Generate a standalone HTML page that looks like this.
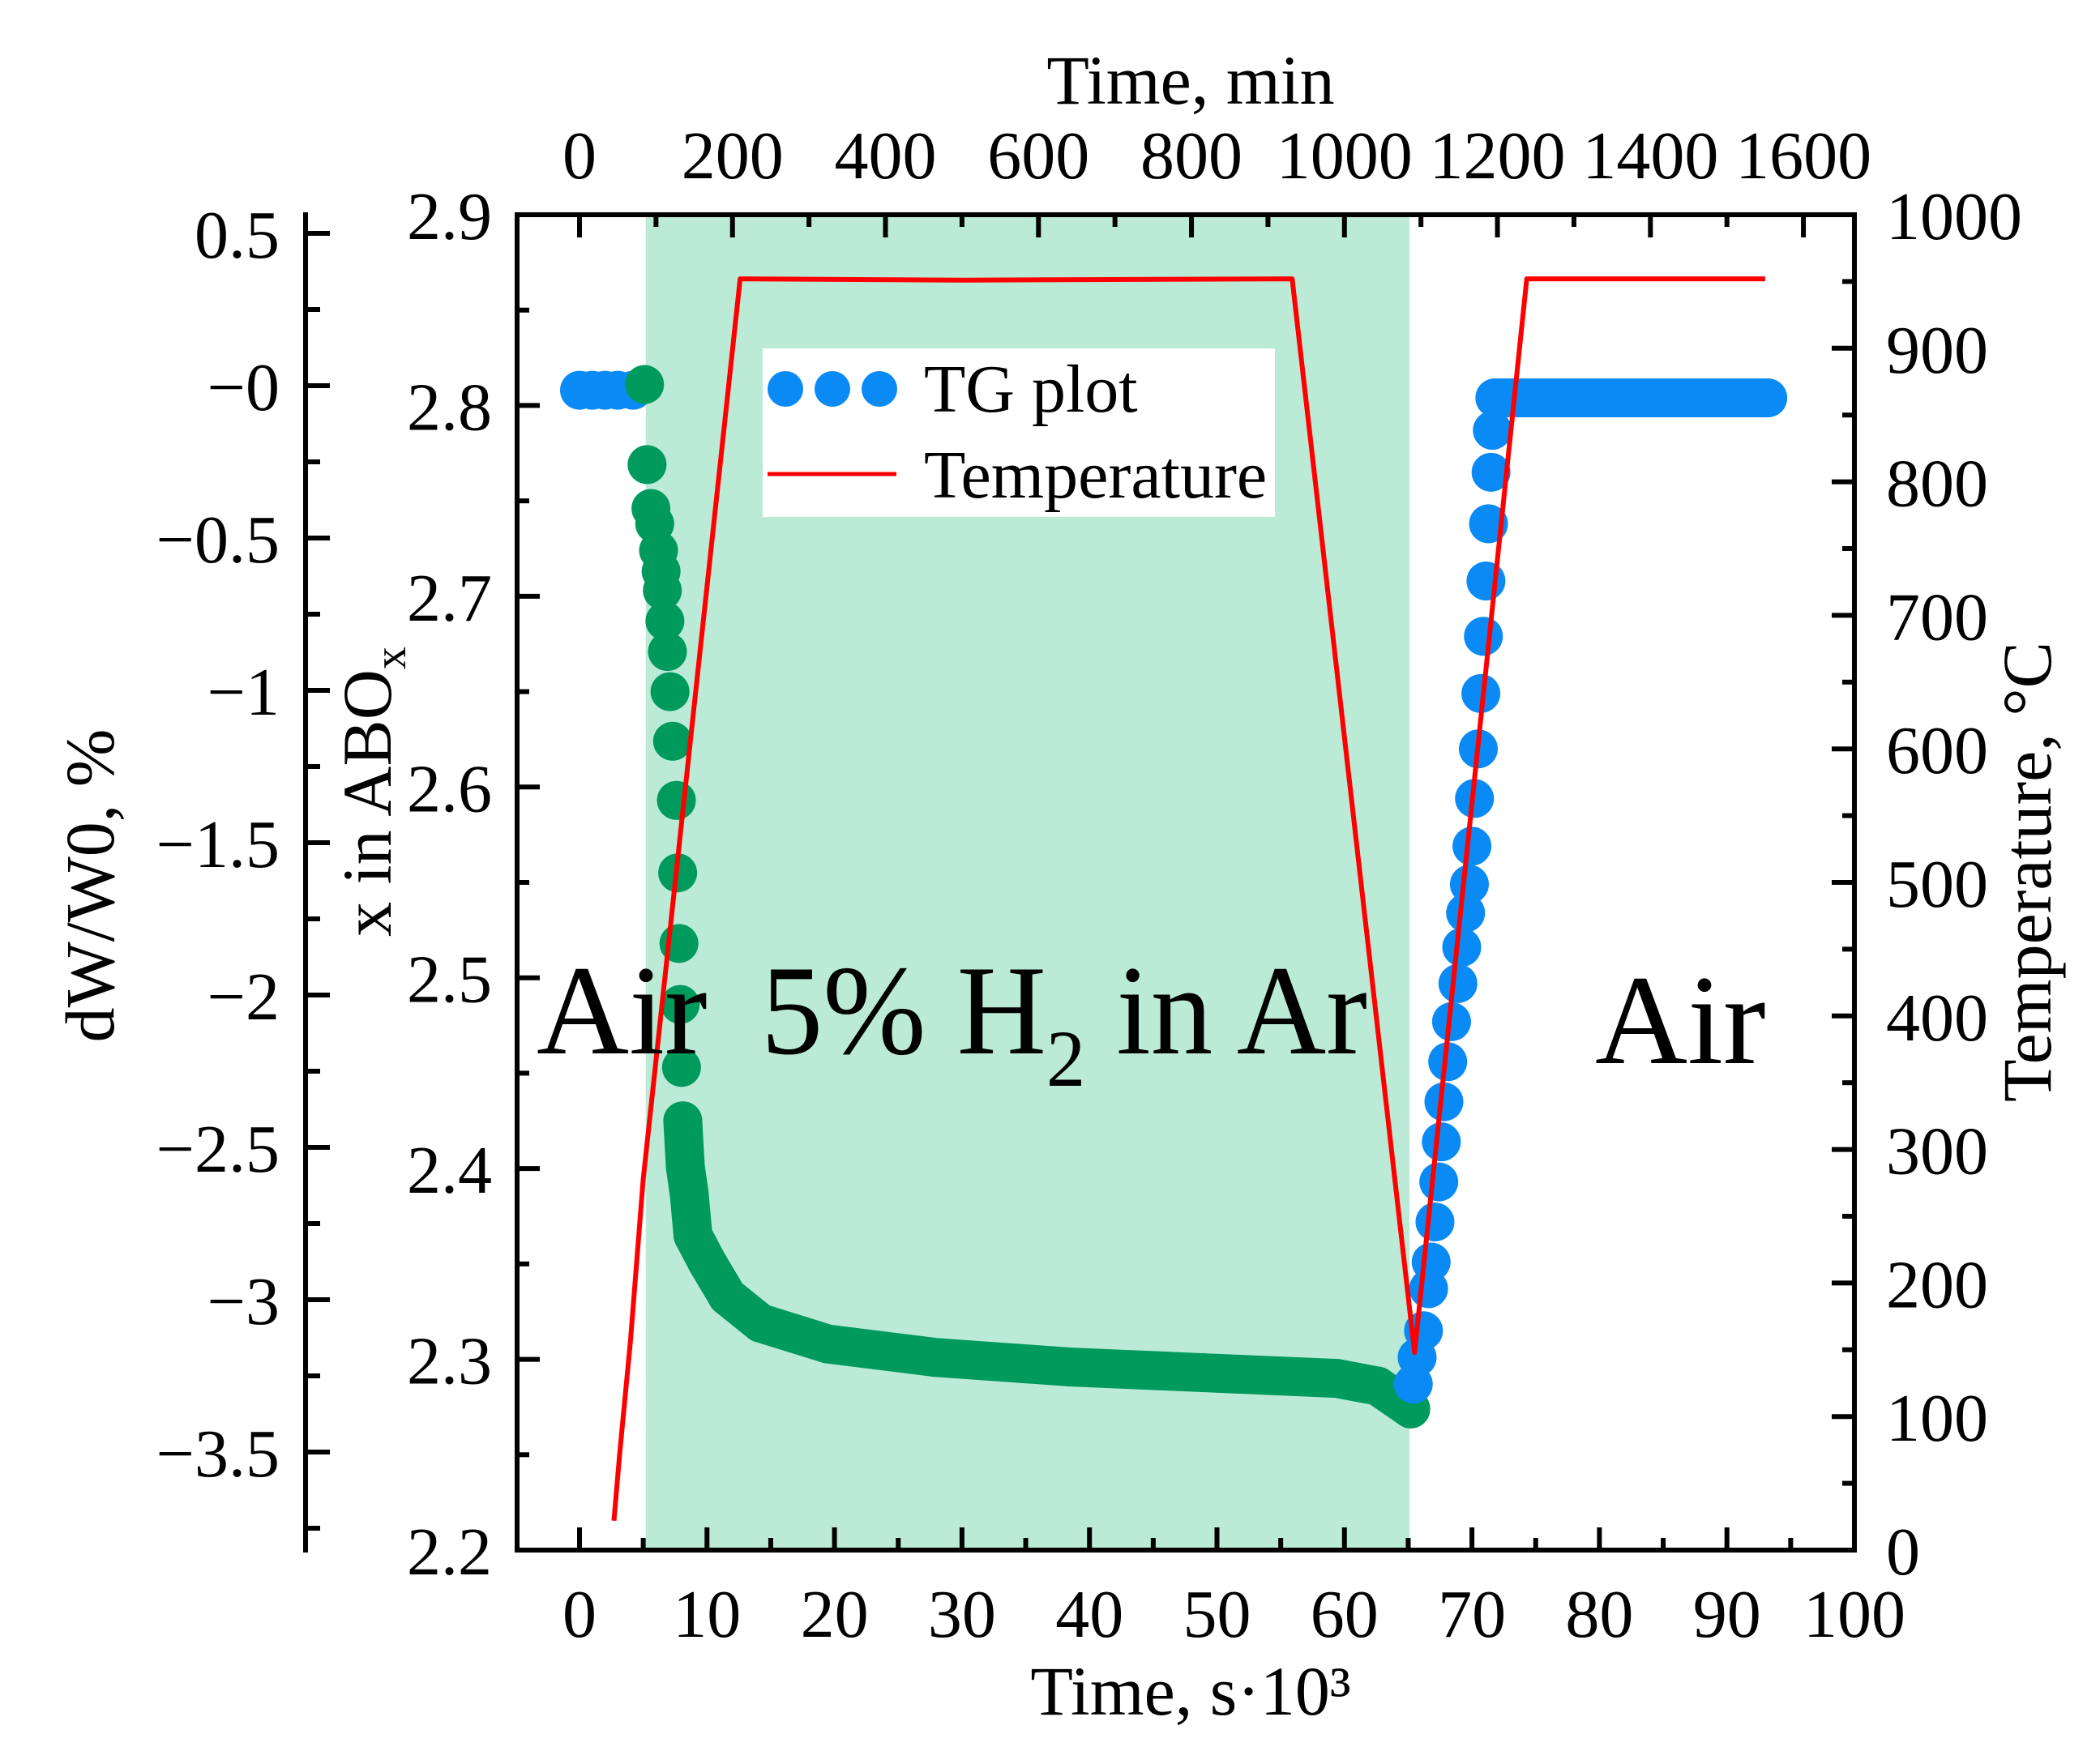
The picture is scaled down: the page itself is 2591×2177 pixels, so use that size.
<!DOCTYPE html>
<html><head><meta charset="utf-8"><style>
html,body{margin:0;padding:0;background:#fff;}
svg{display:block;font-family:"Liberation Serif",serif;}
</style></head><body>
<svg id="chart" width="2591" height="2177" viewBox="0 0 2591 2177">
<g id="bg"></g><g id="series"></g><g id="axes"></g><g id="labels"></g>
</svg>
<script>
// ---- data ----
const bandStart = 5.2, bandEnd = 65.1; // ks, H2 atmosphere window
const tempTime = [2.7, 3.15, 4.0, 5.0, 12.6, 30, 55.9, 65.5, 74.3, 93.0];
const tempValues = [22, 72, 157, 278, 952, 951, 952, 148, 952, 952];
const blueStartTime = [0, 1, 2, 3, 4.2];
const blueStartX = [2.808, 2.808, 2.808, 2.808, 2.808];
const greenTime = [5.1, 5.3, 5.6, 5.9, 6.2, 6.4, 6.5, 6.7, 6.9, 7.1, 7.3, 7.6, 7.7, 7.8, 7.9, 8.0, 8.1, 8.3, 8.6, 8.9, 10.0, 11.6, 14.2, 19.5, 27.9, 38.4, 48.9, 59.4, 62.6, 65.2];
const greenX = [2.811, 2.769, 2.746, 2.738, 2.724, 2.713, 2.703, 2.687, 2.671, 2.650, 2.624, 2.593, 2.555, 2.518, 2.486, 2.453, 2.425, 2.401, 2.387, 2.365, 2.351, 2.333, 2.319, 2.308, 2.301, 2.296, 2.293, 2.290, 2.286, 2.274];
const blueEndTime = [65.4, 65.7, 66.2, 66.6, 66.8, 67.1, 67.4, 67.6, 67.8, 68.1, 68.4, 68.9, 69.2, 69.5, 69.8, 70.0, 70.2, 70.5, 70.7, 70.9, 71.1, 71.3, 71.5, 71.6, 71.8, 73, 75, 78, 81, 84, 87, 90, 93.2];
const blueEndX = [2.287, 2.301, 2.315, 2.337, 2.351, 2.372, 2.393, 2.414, 2.435, 2.456, 2.477, 2.497, 2.516, 2.534, 2.549, 2.569, 2.594, 2.620, 2.649, 2.679, 2.708, 2.738, 2.765, 2.787, 2.804, 2.804, 2.804, 2.804, 2.804, 2.804, 2.804, 2.804, 2.804];
const bottomTicks = [0,10,20,30,40,50,60,70,80,90,100];
const topTicks = [0,200,400,600,800,1000,1200,1400,1600];
const xTicks = [2.2,2.3,2.4,2.5,2.6,2.7,2.8,2.9];
const tTicks = [0,100,200,300,400,500,600,700,800,900,1000];
const dwTicks = [0.5,0,-0.5,-1,-1.5,-2,-2.5,-3,-3.5];
const dwLabels = ["0.5","\u22120","\u22120.5","\u22121","\u22121.5","\u22122","\u22122.5","\u22123","\u22123.5"];

// ---- scales ----
const L=638,R=2288,T=265,B=1913;
const sx = v => 715 + v*15.73;
const sMin = m => sx(m*60/1000);
const sy = v => B - (v-2.2)/0.7*(B-T);
const sT = v => B - v/1000*(B-T);
const sDW = v => 476 - v/0.5*188;
const RAD = 24;
const NS='http://www.w3.org/2000/svg';
function mk(tag, attrs, parent, txt){const e=document.createElementNS(NS,tag);for(const k in attrs)e.setAttribute(k,attrs[k]);if(txt!==undefined)e.textContent=txt;document.getElementById(parent).appendChild(e);return e;}

let band = mk('rect',{x:sx(bandStart),y:T,width:sx(bandEnd)-sx(bandStart),height:B-T,fill:'#bbead6'},'bg');



let gl = mk('polyline',{points:greenTime.slice(16).map((t,i)=>sx(t)+','+sy(greenX[i+16])).join(' '),fill:'none',stroke:'#009a5d','stroke-width':RAD*2,'stroke-linecap':'round','stroke-linejoin':'round'},'series');


function dots(ts, xs, col, name){
  ts.forEach((t,i)=>{
    const c = mk('circle',{cx:sx(t),cy:sy(xs[i]),r:RAD,fill:col},'series');
    
    
  });
}
dots(blueStartTime, blueStartX, '#0a8af5', 'tg-point-air-start');
dots(greenTime, greenX, '#009a5d', 'tg-point-h2');
let bl = mk('polyline',{points:blueEndTime.slice(24).map((t,i)=>sx(t)+','+sy(blueEndX[i+24])).join(' '),fill:'none',stroke:'#0a8af5','stroke-width':RAD*2,'stroke-linecap':'round'},'series');


dots(blueEndTime, blueEndX, '#0a8af5', 'tg-point-air-end');
let tl = mk('polyline',{points:tempTime.map((t,i)=>sx(t)+','+sT(tempValues[i])).join(' '),fill:'none',stroke:'#ff0000','stroke-width':6,'stroke-linejoin':'round'},'series');



let fr = mk('rect',{x:L,y:T,width:R-L,height:B-T,fill:'none',stroke:'#000','stroke-width':6},'axes');


function line(x1,y1,x2,y2){mk('line',{x1,y1,x2,y2,stroke:'#000','stroke-width':6},'axes');}
function txt(x,y,s,anchor,name,size){const e=mk('text',{x,y,'font-size':size||84,'text-anchor':anchor},'labels',s);return e;}
bottomTicks.forEach((v,i)=>{line(sx(v),B,sx(v),B-28);if(i<bottomTicks.length-1)line(sx(v+5),B,sx(v+5),B-15);txt(sx(v),2020,String(v),'middle','bottom-tick-label');});
topTicks.forEach((v,i)=>{line(sMin(v),T,sMin(v),T+28);if(i<topTicks.length-1)line(sMin(v+100),T,sMin(v+100),T+15);txt(sMin(v),220,String(v),'middle','top-tick-label');});
xTicks.forEach((v,i)=>{line(L,sy(v),L+28,sy(v));if(i<xTicks.length-1)line(L,sy(v+0.05),L+15,sy(v+0.05));txt(607,sy(v)+30,v.toFixed(1),'end','left-tick-label');});
tTicks.forEach((v,i)=>{line(R,sT(v),R-28,sT(v));if(i<tTicks.length-1)line(R,sT(v+50),R-15,sT(v+50));txt(2327,sT(v)+30,String(v),'start','right-tick-label');});
line(377,262,377,1916);
dwTicks.forEach((v,i)=>{line(377,sDW(v),407,sDW(v));line(377,sDW(v-0.25),395,sDW(v-0.25));txt(345,sDW(v)+30,dwLabels[i],'end','dw-tick-label');});
</script>
<svg style="position:absolute;left:0;top:0" width="2591" height="2177" font-family="Liberation Serif, serif">
<text x="1469" y="128" font-size="86" text-anchor="middle">Time, min</text>
<text x="1469" y="2116" font-size="86" text-anchor="middle">Time, s·10³</text>
<text transform="translate(140,1093) rotate(-90)" font-size="86" text-anchor="middle">dW/W0, %</text>
<text transform="translate(482,977) rotate(-90)" font-size="86" text-anchor="middle">x in ABO<tspan font-size="56" dy="18">x</tspan></text>
<text transform="translate(2530,1076) rotate(-90)" font-size="86" text-anchor="middle">Temperature, °C</text>
<text x="662" y="1300" font-size="158">Air</text>
<text x="939" y="1300" font-size="158" textLength="748" lengthAdjust="spacingAndGlyphs">5% H<tspan font-size="100" dy="40">2</tspan><tspan dy="-40"> in Ar</tspan></text>
<text x="1968" y="1312" font-size="158">Air</text>
<g>
<rect x="941" y="430" width="632" height="208" fill="#fff"/>
<circle cx="969" cy="480" r="22" fill="#0a8af5"/>
<circle cx="1027" cy="480" r="22" fill="#0a8af5"/>
<circle cx="1085" cy="480" r="22" fill="#0a8af5"/>
<text x="1140" y="508" font-size="84">TG plot</text>
<line x1="947" y1="585" x2="1106" y2="585" stroke="#ff0000" stroke-width="5"/>
<text x="1140" y="614" font-size="84">Temperature</text>
</g>
</svg>
</body></html>
